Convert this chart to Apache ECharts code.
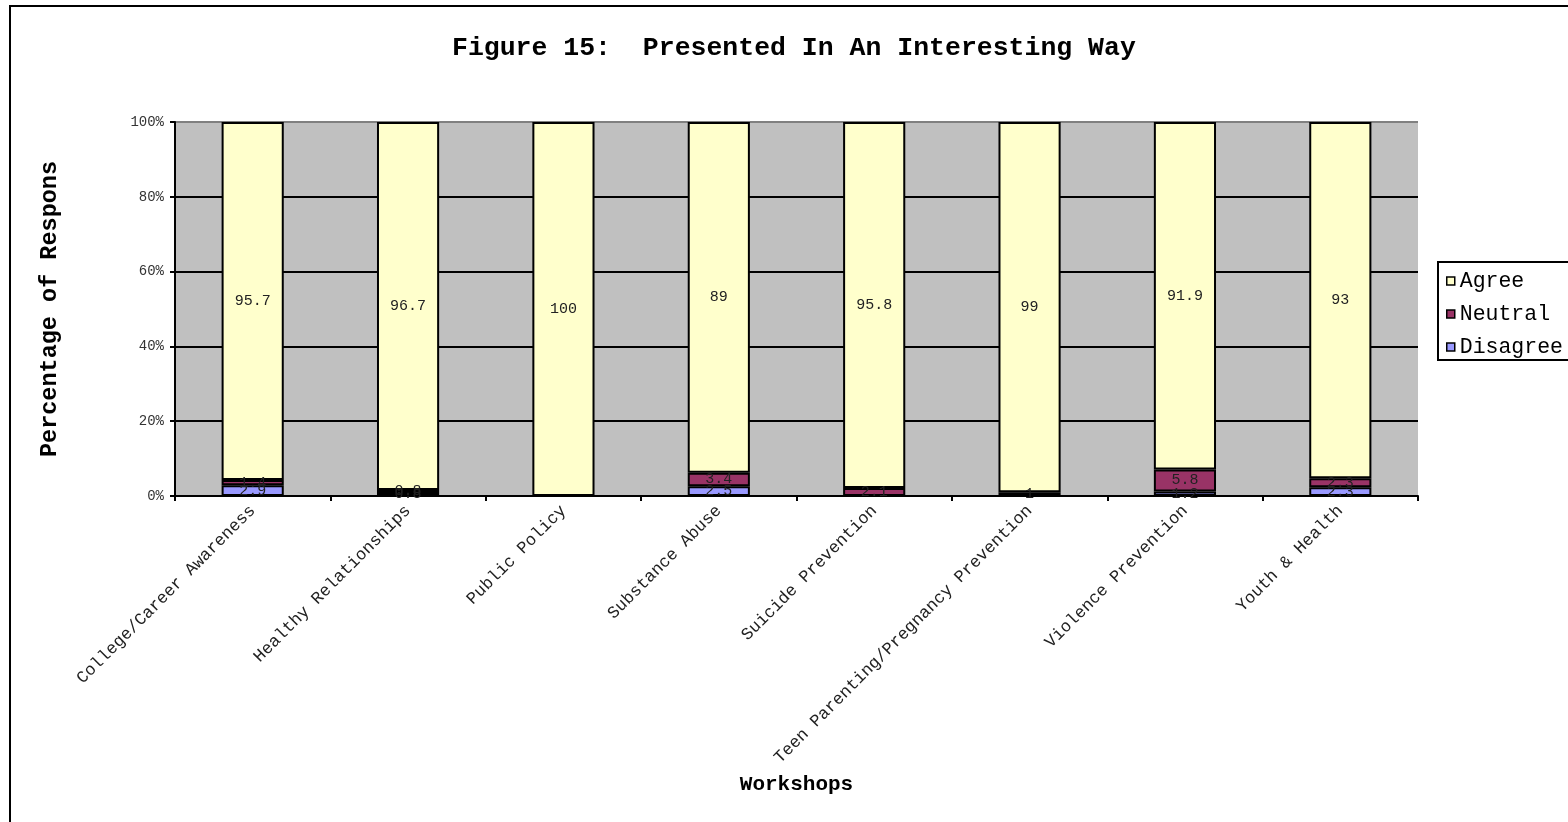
<!DOCTYPE html>
<html>
<head>
<meta charset="utf-8">
<title>Figure 15: Presented In An Interesting Way</title>
<script src="https://cdn.jsdelivr.net/npm/echarts@6/dist/echarts.min.js"></script>
<style>
  html, body { margin: 0; padding: 0; background: #ffffff; }
  #chart { width: 1568px; height: 822px; }
</style>
</head>
<body>
<div id="chart"></div>
<script>
// Workshops surveyed
const workshops = [
  'College/Career Awareness',
  'Healthy Relationships',
  'Public Policy',
  'Substance Abuse',
  'Suicide Prevention',
  'Teen Parenting/Pregnancy Prevention',
  'Violence Prevention',
  'Youth & Health'
];

// Response percentages per workshop (0 = no responses in that group)
const agree    = [95.7, 96.7, 100, 89,  95.8, 99, 91.9, 93];
const neutral  = [1.4,  0.8,  0,   3.4, 2.1,  1,  5.8,  2.3];
const disagree = [2.9,  0.8,  0,   2.5, 0,    0,  1.2,  2.3];

const yTicks = [0, 20, 40, 60, 80, 100];

const FONT = '"Liberation Mono", "DejaVu Sans Mono", monospace';

// Each column is drawn as a share of its own total (100% stacked)
const totals = workshops.map((_, i) => agree[i] + neutral[i] + disagree[i]);

function toStackData(values) {
  return values.map((v, i) => v > 0
    ? { value: v / totals[i] * 100, raw: v }
    : { value: '-', raw: 0 });
}

function seriesFor(name, values, color) {
  return {
    name: name,
    type: 'bar',
    stack: 'total',
    barCategoryGap: '60%',
    data: toStackData(values),
    itemStyle: { color: color, borderColor: '#000000', borderWidth: 2 },
    label: {
      show: true,
      position: 'inside',
      fontFamily: FONT,
      fontSize: 15,
      color: '#222222',
      formatter: p => (p.data && p.data.raw ? String(p.data.raw) : '')
    },
    emphasis: { disabled: true }
  };
}

const chart = echarts.init(document.getElementById('chart'), null, { renderer: 'canvas' });

chart.setOption({
  animation: false,
  backgroundColor: '#ffffff',
  title: {
    text: 'Figure 15:  Presented In An Interesting Way',
    left: 452,
    top: 35,
    padding: 0,
    textStyle: { fontFamily: FONT, fontSize: 26.5, fontWeight: 'bold', color: '#000000' }
  },
  legend: {
    orient: 'vertical',
    left: 1438,
    top: 262,
    padding: [8, 8, 2, 8],
    itemGap: 11,
    itemWidth: 8,
    itemHeight: 8,
    icon: 'rect',
    borderColor: '#000000',
    borderWidth: 2,
    data: ['Agree', 'Neutral', 'Disagree'],
    itemStyle: { borderColor: '#000000', borderWidth: 1.5 },
    textStyle: { fontFamily: FONT, fontSize: 21.5, color: '#000000' }
  },
  grid: { left: 175, right: 150, top: 122, bottom: 326, containLabel: false },
  xAxis: {
    type: 'category',
    data: workshops,
    name: 'Workshops',
    nameLocation: 'middle',
    nameGap: 278,
    nameTextStyle: { fontFamily: FONT, fontSize: 21, fontWeight: 'bold', color: '#000000' },
    axisLine: { lineStyle: { color: '#000000', width: 2 } },
    axisTick: { show: true, length: 5, lineStyle: { color: '#000000', width: 2 } },
    axisLabel: {
      rotate: 45,
      interval: 0,
      margin: 12,
      fontFamily: FONT,
      fontSize: 17,
      color: '#222222'
    },
    splitLine: { show: false }
  },
  yAxis: {
    type: 'value',
    min: 0,
    max: 100,
    interval: 20,
    name: 'Percentage of Responses',
    nameLocation: 'middle',
    nameGap: 113,
    nameTruncate: { maxWidth: 300, ellipsis: '' },
    nameTextStyle: {
      fontFamily: FONT,
      fontSize: 23.5,
      fontWeight: 'bold',
      color: '#000000'
    },
    axisLine: { show: true, lineStyle: { color: '#000000', width: 2 } },
    axisTick: { show: true, length: 5, lineStyle: { color: '#000000', width: 2 } },
    axisLabel: {
      margin: 11,
      fontFamily: FONT,
      fontSize: 14,
      color: '#333333',
      formatter: v => (yTicks.indexOf(v) >= 0 ? v + '%' : '')
    },
    splitLine: {
      show: true,
      lineStyle: {
        color: ['#000000', '#000000', '#000000', '#000000', '#000000', '#808080'],
        width: 2
      }
    },
    splitArea: { show: true, areaStyle: { color: ['#c0c0c0'] } }
  },
  series: [
    seriesFor('Disagree', disagree, '#9999ff'),
    seriesFor('Neutral', neutral, '#993366'),
    seriesFor('Agree', agree, '#ffffcc')
  ],
  graphic: [
    {
      type: 'rect',
      silent: true,
      z: 100,
      shape: { x: 10, y: 6, width: 1700, height: 1000 },
      style: { fill: null, stroke: '#000000', lineWidth: 2 }
    }
  ]
});
</script>
</body>
</html>
